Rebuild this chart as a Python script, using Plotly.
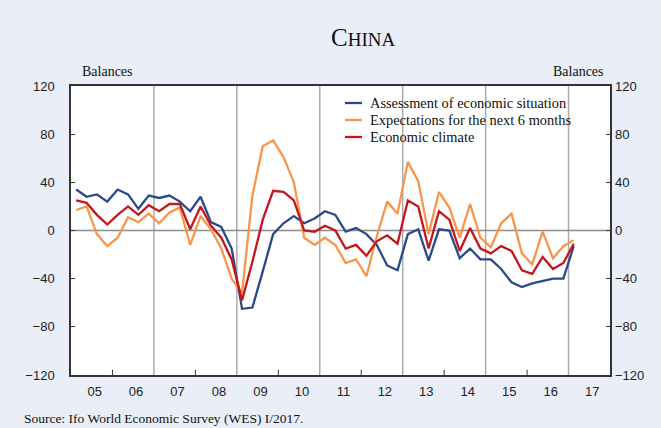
"""Ifo World Economic Survey - China, quarterly balances."""

import plotly.graph_objects as go

# survey quarters, 2005 Q1 .. 2017 Q1
quarters = [f"{y}Q{q}" for y in range(2005, 2018) for q in range(1, 5)][:49]

assessment = [34, 28, 30, 24, 34, 30, 18, 29, 27, 29, 24, 16,
              28, 7, 3, -15, -65, -64, -34, -3, 6, 12, 6, 10,
              16, 13, -1, 2, -3, -12, -29, -33, -3, 1, -25, 1,
              0, -23, -15, -24, -24, -32, -43, -47, -44, -42, -40, -40,
              -13]
expectations = [17, 20, -3, -13, -6, 11, 7, 14, 6, 15, 19, -12,
                12, 1, -15, -40, -52, 29, 70, 75, 61, 40, -6, -12,
                -6, -12, -27, -24, -38, -5, 24, 14, 57, 41, -3, 32,
                19, -6, 22, -6, -14, 6, 14, -19, -28, -1, -23, -13,
                -8]
climate = [25, 23, 13, 5, 13, 20, 13, 21, 16, 22, 22, 1,
           20, 4, -6, -24, -58, -26, 9, 33, 32, 25, 0, -1,
           4, 0, -15, -12, -21, -9, -4, -11, 25, 20, -15, 16,
           9, -17, 2, -15, -19, -13, -17, -33, -36, -22, -32, -27,
           -11]

years = list(range(2005, 2018))
year_labels = ["05", "06", "07", "08", "09", "10", "11", "12", "13", "14", "15", "16", "17"]
y_ticks = [-120, -80, -40, 0, 40, 80, 120]

SERIF = "Liberation Serif, Times New Roman, serif"
SANS = "Liberation Sans, Arial, sans-serif"
BG = "#E9EEF8"
TEXT = "#111111"

W, H = 661, 428
ML, MR, MT, MB = 71, 51, 86, 53
PW, PH = W - ML - MR, H - MT - MB


def to_decimal(q):
    """2005Q1 -> mid-point of the quarter as decimal year."""
    year, quarter = int(q[:4]), int(q[-1])
    return year + (quarter - 1) / 4 + 0.125


def px_x(px):
    return (px - ML) / PW


def px_y(py):
    return (H - MB - py) / PH


x = [to_decimal(q) for q in quarters]

series = [
    ("Assessment of economic situation", assessment, "#2B4A8B"),
    ("Expectations for the next 6 months", expectations, "#F7964A"),
    ("Economic climate", climate, "#C4161C"),
]

fig = go.Figure()
for name, vals, color in series:
    fig.add_trace(go.Scatter(x=x, y=vals, name=name, mode="lines",
                             line=dict(color=color, width=2.3)))

# invisible trace to drive the right-hand axis
fig.add_trace(go.Scatter(x=[x[0]], y=[0], yaxis="y2", showlegend=False,
                         mode="markers", marker=dict(opacity=0), hoverinfo="skip"))

shapes = []
annotations = []

# year gridlines every other year, small tick marks in between
for yr in years[2::2]:
    shapes.append(dict(type="line", xref="x", yref="paper", x0=yr, x1=yr, y0=0, y1=1,
                       line=dict(color="#ABABAB", width=1.5), layer="below"))
for yr in years[1::2]:
    shapes.append(dict(type="line", xref="x", yref="paper", x0=yr, x1=yr, y0=0, y1=0.018,
                       line=dict(color="#333333", width=1)))
shapes.append(dict(type="line", xref="paper", yref="y", x0=0, x1=1, y0=0, y1=0,
                   line=dict(color="#8C8C8C", width=1.3), layer="below"))

# hand-made legend (tighter rows than plotly's own)
for k, (name, vals, color) in enumerate(series):
    row_y = px_y(103 + 17 * k)
    shapes.append(dict(type="line", xref="paper", yref="paper",
                       x0=px_x(345), x1=px_x(362), y0=row_y, y1=row_y,
                       line=dict(color=color, width=2.3)))
    annotations.append(dict(text=name, x=px_x(368), y=row_y, xref="paper", yref="paper",
                            xanchor="left", yanchor="middle", showarrow=False,
                            font=dict(family=SERIF, size=14.4, color=TEXT)))

annotations += [
    dict(text="C<span style='font-size:19px'>HINA</span>", x=px_x(363), y=px_y(38),
         xref="paper", yref="paper", xanchor="center", yanchor="middle", showarrow=False,
         font=dict(family=SERIF, size=25, color=TEXT)),
    dict(text="Balances", x=px_x(80), y=px_y(72), xref="paper", yref="paper",
         xanchor="left", yanchor="middle", showarrow=False,
         font=dict(family=SERIF, size=14, color=TEXT)),
    dict(text="Balances", x=px_x(606), y=px_y(72), xref="paper", yref="paper",
         xanchor="right", yanchor="middle", showarrow=False,
         font=dict(family=SERIF, size=14, color=TEXT)),
    dict(text="Source: Ifo World Economic Survey (WES) I/2017.", x=px_x(22), y=px_y(418),
         xref="paper", yref="paper", xanchor="left", yanchor="middle", showarrow=False,
         font=dict(family=SERIF, size=13.5, color=TEXT)),
]

axis_font = dict(family=SANS, size=13, color="#222222")
fig.update_layout(
    width=W, height=H,
    paper_bgcolor=BG, plot_bgcolor="white",
    margin=dict(l=ML, r=MR, t=MT, b=MB),
    showlegend=False,
    xaxis=dict(range=[2005, 2018], tickvals=[yr + 0.57 for yr in years], ticktext=year_labels,
               ticks="", showgrid=False, zeroline=False, tickfont=axis_font,
               showline=True, mirror=True, linecolor="#333333", linewidth=1.5,
               ticklabelstandoff=4),
    yaxis=dict(range=[-120, 120], tickvals=y_ticks, ticks="inside", ticklen=4,
               tickcolor="#333333", showgrid=False, zeroline=False, tickfont=axis_font,
               showline=True, mirror=True, linecolor="#333333", linewidth=1.5,
               ticklabelstandoff=12),
    yaxis2=dict(range=[-120, 120], tickvals=y_ticks, overlaying="y", side="right",
                ticks="inside", ticklen=4, tickcolor="#333333", showgrid=False,
                zeroline=False, tickfont=axis_font, showline=False,
                ticklabelstandoff=4),
    shapes=shapes,
    annotations=annotations,
)

# drop the default page margin so the figure sits at the window's corner
fig.write_html("out.html", config={"displayModeBar": False},
               post_script="document.body.style.margin='0';")
